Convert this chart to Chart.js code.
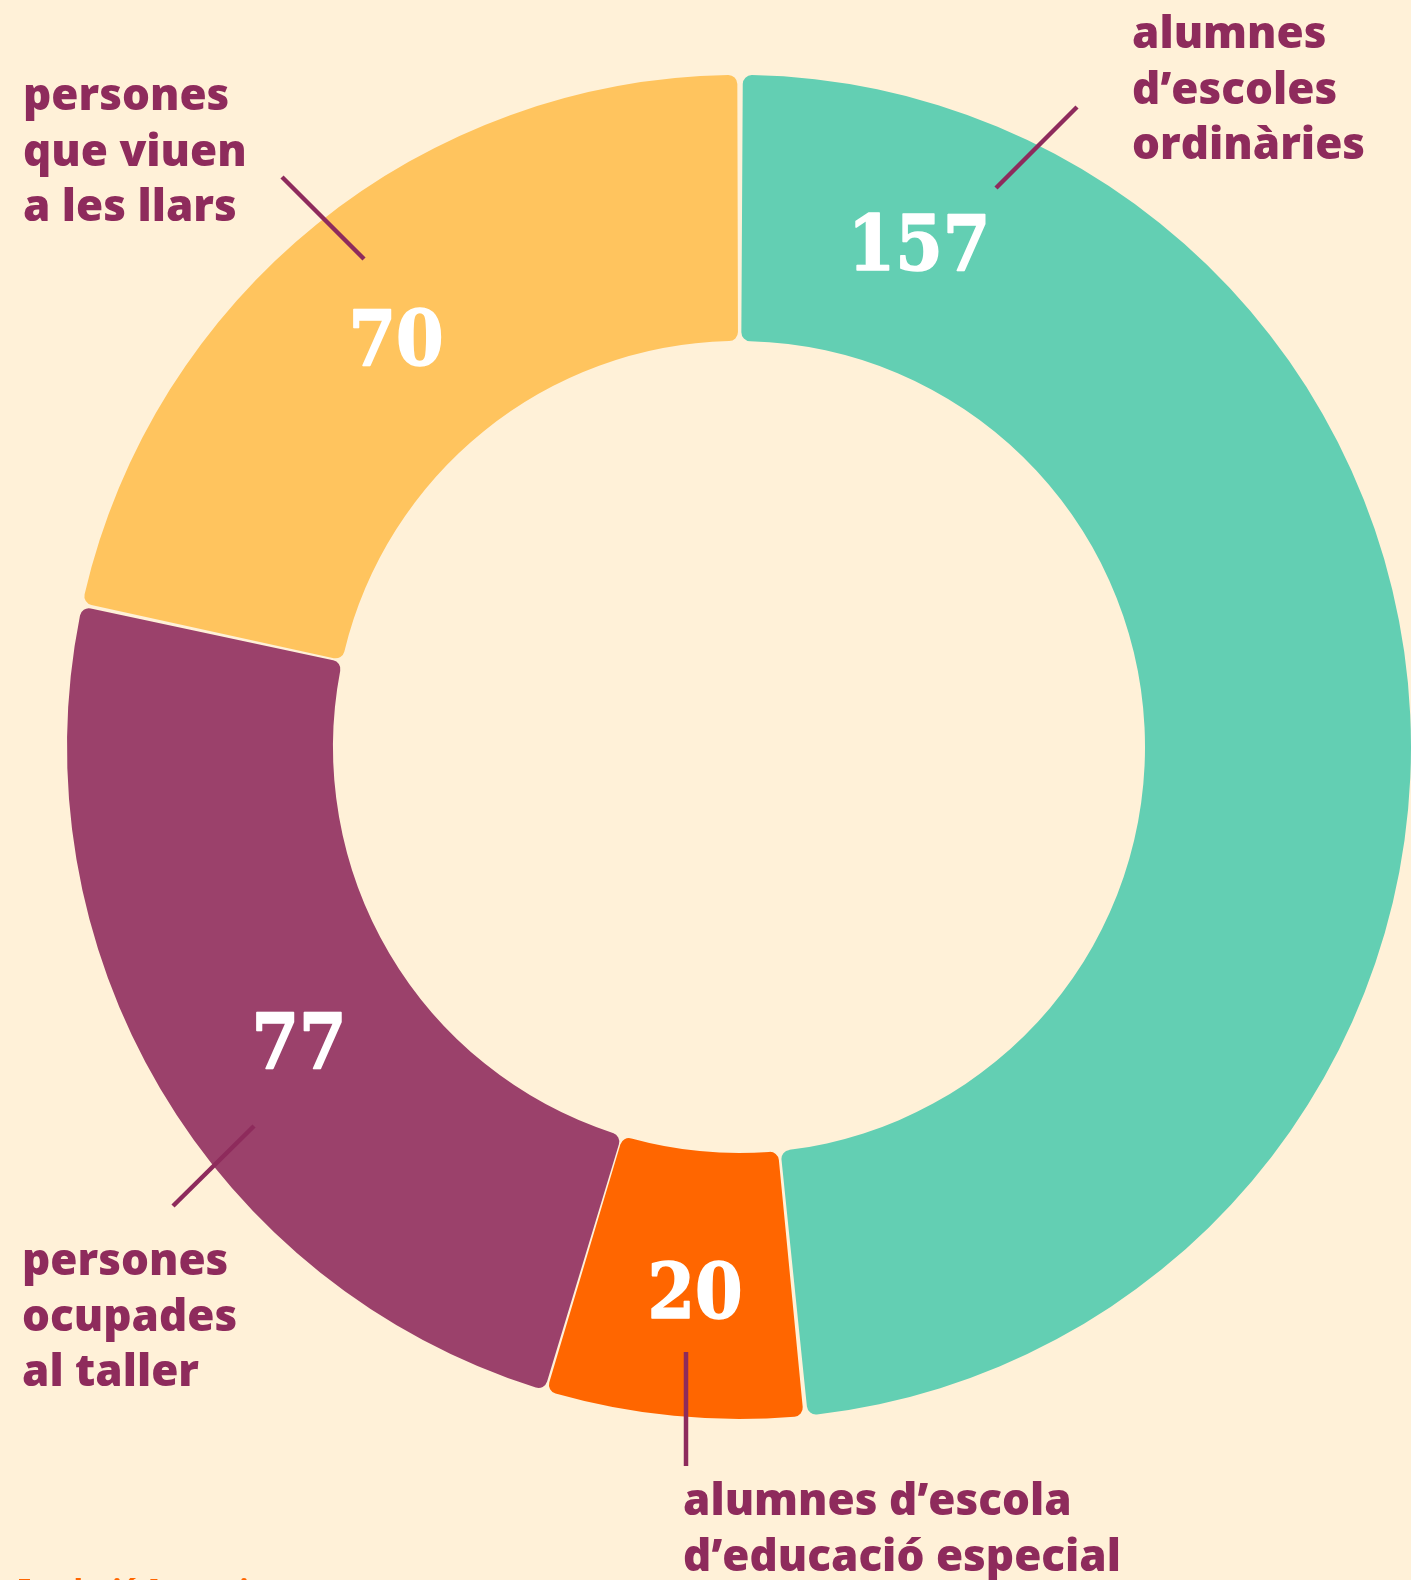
<!DOCTYPE html>
<html>
<head>
<meta charset="utf-8">
<script src="https://cdn.jsdelivr.net/npm/chart.js@4"></script>
<style>
  html, body { margin: 0; padding: 0; background: #FFF1D8; }
  #wrap { width: 1411px; height: 1580px; position: relative; overflow: hidden; }
  canvas { display: block; }
</style>
</head>
<body>
<div id="wrap"><canvas id="c" width="1411" height="1580"></canvas></div>
<script>
// ---- data ----
const categories = [
  "alumnes d’escoles ordinàries",
  "alumnes d’escola d’educació especial",
  "persones ocupades al taller",
  "persones que viuen a les llars"
];
const labelLines = [
  ["alumnes", "d’escoles", "ordinàries"],
  ["alumnes d’escola", "d’educació especial"],
  ["persones", "ocupades", "al taller"],
  ["persones", "que viuen", "a les llars"]
];
const values = [157, 20, 77, 70];
const colors = ["#63CFB3", "#FF6600", "#9B416B", "#FFC45E"];
const sourceText = "Fundació Aspronis";

// ---- annotation layout (offsets from chart centre, px) ----
const valuePos = [
  { dx: 180, dy: -477 },
  { dx: -44, dy: 571 },
  { dx: -440, dy: 321 },
  { dx: -343, dy: -382 }
];
const leaders = [
  { x1: 257, y1: -559, x2: 338, y2: -640 },
  { x1: -53, y1: 605, x2: -53, y2: 719 },
  { x1: -485, y1: 379, x2: -566, y2: 459 },
  { x1: -375, y1: -488, x2: -457, y2: -570 }
];
const textPos = [
  { dx: 393, dy: -699, align: "left" },
  { dx: -56, dy: 768, align: "left" },
  { dx: -717, dy: 528, align: "left" },
  { dx: -716, dy: -637, align: "left" }
];

const annot = {
  id: "annot",
  afterDraw(chart) {
    const ctx = chart.ctx;
    const arc = chart.getDatasetMeta(0).data[0];
    const cx = arc.x, cy = arc.y;
    ctx.save();
    // leader lines
    ctx.strokeStyle = "#8E2B5C";
    ctx.lineWidth = 4.5;
    ctx.lineCap = "butt";
    leaders.forEach(l => {
      ctx.beginPath();
      ctx.moveTo(cx + l.x1, cy + l.y1);
      ctx.lineTo(cx + l.x2, cy + l.y2);
      ctx.stroke();
    });
    // values
    ctx.fillStyle = "#FFFFFF";
    ctx.strokeStyle = "#FFFFFF";
    ctx.lineWidth = 1.5;
    ctx.lineJoin = "round";
    ctx.textAlign = "center";
    ctx.textBaseline = "alphabetic";
    ctx.font = "bold 76px 'DejaVu Serif Condensed', 'DejaVu Serif', serif";
    values.forEach((v, i) => {
      ctx.fillText(String(v), cx + valuePos[i].dx, cy + valuePos[i].dy);
      ctx.strokeText(String(v), cx + valuePos[i].dx, cy + valuePos[i].dy);
    });
    // category labels
    ctx.fillStyle = "#8E2B5C";
    ctx.font = "800 44px 'Open Sans', sans-serif";
    labelLines.forEach((lines, i) => {
      ctx.textAlign = textPos[i].align;
      lines.forEach((t, k) => {
        ctx.fillText(t, cx + textPos[i].dx, cy + textPos[i].dy + k * 55.5);
      });
    });
    // source
    ctx.fillStyle = "#FF6600";
    ctx.textAlign = "left";
    ctx.font = "800 26px 'Open Sans', sans-serif";
    ctx.fillText(sourceText, 17, 1598);
    ctx.restore();
  }
};

new Chart(document.getElementById("c"), {
  type: "doughnut",
  data: {
    labels: categories,
    datasets: [{
      data: values,
      backgroundColor: colors,
      borderWidth: 0,
      borderRadius: 9,
      spacing: 4
    }]
  },
  options: {
    responsive: false,
    devicePixelRatio: 1,
    animation: false,
    cutout: "60.3%",
    layout: { padding: { left: 67, right: 0, top: 75, bottom: 161 } },
    plugins: {
      legend: { display: false },
      tooltip: { enabled: false }
    }
  },
  plugins: [annot]
});
</script>
</body>
</html>
